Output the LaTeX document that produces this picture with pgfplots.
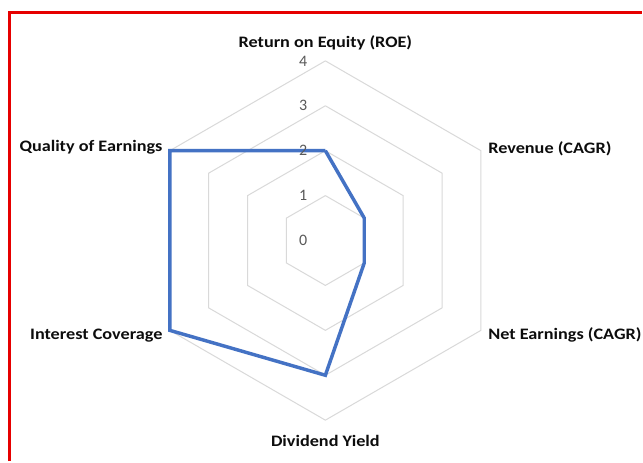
\documentclass[border=0pt]{standalone}
\usepackage{pgfplots}
\pgfplotsset{compat=1.18}
\usepackage{graphicx}
\usepackage{fontspec}
\setmainfont{Carlito}
\definecolor{serieblue}{RGB}{68,114,196}
\definecolor{gridgray}{RGB}{217,217,217}
\definecolor{ticktext}{RGB}{89,89,89}
\definecolor{labtext}{RGB}{13,13,13}
\definecolor{frame}{RGB}{230,0,0}
\newcommand{\lab}[1]{\scalebox{1.14}[1]{\fontsize{12}{14}\selectfont\bfseries #1}}
\begin{document}
\begin{tikzpicture}[x=1pt,y=1pt]
\begin{axis}[
  scale only axis,
  width=482.25pt, height=346.5pt,
  xmin=-7.2444, xmax=7.0444,
  ymin=-4.9111, ymax=5.3556,
  hide axis, clip=false,
  axis line style={draw=none},
]
% background
\path[fill=white] (rel axis cs:0,0) rectangle (rel axis cs:1,1);
% grid rings
\addplot[gridgray, line width=0.75pt, data cs=polar] coordinates {(90,1) (30,1) (-30,1) (-90,1) (-150,1) (150,1) (90,1)};
\addplot[gridgray, line width=0.75pt, data cs=polar] coordinates {(90,2) (30,2) (-30,2) (-90,2) (-150,2) (150,2) (90,2)};
\addplot[gridgray, line width=0.75pt, data cs=polar] coordinates {(90,3) (30,3) (-30,3) (-90,3) (-150,3) (150,3) (90,3)};
\addplot[gridgray, line width=0.75pt, data cs=polar] coordinates {(90,4) (30,4) (-30,4) (-90,4) (-150,4) (150,4) (90,4)};
% data series
\addplot[serieblue, line width=2.6pt, line join=miter, data cs=polar] coordinates {(90,2) (30,1) (-30,1) (-90,3) (-150,4) (150,4) (90,2)};
% tick labels
\foreach \k in {0,1,2,3,4} {
  \edef\temp{\noexpand\node[anchor=east, text=ticktext, font=\noexpand\fontsize{12}{14}\noexpand\selectfont, inner sep=0pt] at (axis cs:-0.40,\k) {\k};}
  \temp
}
% category labels
\node[text=labtext, inner sep=0pt] at (axis cs:0,4.40) {\lab{Return on Equity (ROE)}};
\node[text=labtext, inner sep=0pt, anchor=west] at (axis cs:3.622,2.045) {\lab{Revenue (CAGR)}};
\node[text=labtext, inner sep=0pt, anchor=west] at (axis cs:3.622,-2.11) {\lab{Net Earnings (CAGR)}};
\node[text=labtext, inner sep=0pt] at (axis cs:0,-4.467) {\lab{Dividend Yield}};
\node[text=labtext, inner sep=0pt, anchor=east] at (axis cs:-3.622,-2.11) {\lab{Interest Coverage}};
\node[text=labtext, inner sep=0pt, anchor=east] at (axis cs:-3.622,2.067) {\lab{Quality of Earnings}};
% red frame
\draw[frame, line width=1.9pt] (axis cs:-7.033,-4.9111) -- (axis cs:-7.033,5.078) -- (axis cs:7.0444,5.078);
\end{axis}
\end{tikzpicture}
\end{document}
